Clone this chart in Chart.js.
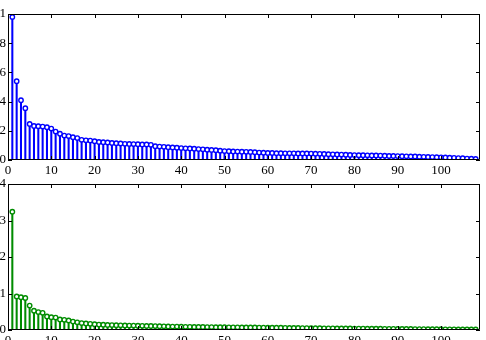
<!DOCTYPE html>
<html>
<head>
<meta charset="utf-8">
<script src="https://cdn.jsdelivr.net/npm/chart.js@4.4.1/dist/chart.umd.min.js"></script>
<style>
	html, body { margin: 0; padding: 0; background: #fff; }
	body { width: 486px; height: 340px; overflow: hidden; position: relative; }
	canvas { position: absolute; }
	#top-canvas { left: -30px; top: 0px; }
	#bottom-canvas { left: -30px; top: 170px; }
</style>
</head>
<body>
<canvas id="top-canvas" width="516" height="180"></canvas>
<canvas id="bottom-canvas" width="516" height="180"></canvas>
<script>
// values, index 1..108
var topValues = [
	0.98, 0.54, 0.41, 0.355, 0.247, 0.233, 0.232, 0.229, 0.225, 0.215,
	0.195, 0.18, 0.167, 0.164, 0.156, 0.15, 0.138, 0.135, 0.133, 0.129,
	0.124, 0.122, 0.12, 0.117, 0.115, 0.113, 0.111, 0.11, 0.109, 0.108,
	0.107, 0.106, 0.104, 0.095, 0.092, 0.09, 0.088, 0.086, 0.084, 0.082,
	0.08, 0.079, 0.077, 0.075, 0.073, 0.071, 0.069, 0.067, 0.064, 0.061,
	0.06, 0.059, 0.058, 0.057, 0.056, 0.055, 0.053, 0.051, 0.05, 0.048,
	0.048, 0.047, 0.047, 0.046, 0.046, 0.046, 0.045, 0.045, 0.045, 0.044,
	0.043, 0.042, 0.041, 0.04, 0.039, 0.038, 0.037, 0.036, 0.035, 0.034,
	0.033, 0.033, 0.032, 0.031, 0.031, 0.03, 0.029, 0.028, 0.028, 0.027,
	0.026, 0.025, 0.024, 0.024, 0.023, 0.022, 0.021, 0.02, 0.019, 0.018,
	0.017, 0.016, 0.015, 0.013, 0.012, 0.01, 0.009, 0.007
];
var bottomValues = [
	3.24, 0.92, 0.9, 0.88, 0.67, 0.53, 0.49, 0.47, 0.37, 0.35,
	0.34, 0.29, 0.28, 0.26, 0.23, 0.21, 0.19, 0.18, 0.17, 0.16,
	0.15, 0.145, 0.14, 0.135, 0.13, 0.128, 0.125, 0.122, 0.12, 0.118,
	0.115, 0.112, 0.11, 0.107, 0.104, 0.101, 0.098, 0.095, 0.093, 0.09,
	0.088, 0.087, 0.085, 0.084, 0.082, 0.081, 0.08, 0.078, 0.077, 0.075,
	0.074, 0.073, 0.072, 0.071, 0.07, 0.069, 0.068, 0.067, 0.066, 0.065,
	0.064, 0.062, 0.061, 0.06, 0.058, 0.057, 0.055, 0.054, 0.052, 0.05,
	0.049, 0.048, 0.047, 0.046, 0.045, 0.044, 0.043, 0.042, 0.041, 0.04,
	0.039, 0.038, 0.037, 0.036, 0.035, 0.034, 0.033, 0.032, 0.031, 0.03,
	0.029, 0.028, 0.027, 0.026, 0.025, 0.024, 0.023, 0.022, 0.021, 0.02,
	0.019, 0.018, 0.018, 0.017, 0.016, 0.016, 0.015, 0.015
];
var xTicks = [0, 10, 20, 30, 40, 50, 60, 70, 80, 90, 100];
var topYTicks = [0, 0.2, 0.4, 0.6, 0.8, 1];
var bottomYTicks = [0, 1, 2, 3, 4];

var font = { family: "'Liberation Serif', 'Times New Roman', serif", size: 13 };

// matlab style box with ticks pointing inward
var boxPlugin = {
	id: "box",
	afterDraw: function(chart) {
		var ctx = chart.ctx;
		var a = chart.chartArea;
		var x = chart.scales.x, y = chart.scales.y;
		var len = 4;
		ctx.save();
		ctx.strokeStyle = "#000";
		ctx.lineWidth = 1;
		ctx.beginPath();
		ctx.rect(Math.round(a.left) + 0.5, Math.round(a.top) + 0.5,
			Math.round(a.right - a.left) - 1, Math.round(a.bottom - a.top) - 1);
		x.ticks.forEach(function(t) {
			var px = Math.round(x.getPixelForValue(t.value)) + 0.5;
			ctx.moveTo(px, a.bottom); ctx.lineTo(px, a.bottom - len);
			ctx.moveTo(px, a.top); ctx.lineTo(px, a.top + len);
		});
		y.ticks.forEach(function(t) {
			var py = Math.round(y.getPixelForValue(t.value)) + 0.5;
			ctx.moveTo(a.left, py); ctx.lineTo(a.left + len, py);
			ctx.moveTo(a.right, py); ctx.lineTo(a.right - len, py);
		});
		ctx.stroke();
		ctx.restore();
	}
};

function label(v) {
	return String(Math.round(v * 10) / 10);
}

function makeStem(id, values, yTicks, yMax, color) {
	var points = values.map(function(v, i) { return { x: i + 1, y: v }; });
	return new Chart(document.getElementById(id), {
		type: "bar",
		data: {
			datasets: [
				{
					type: "line",
					data: points,
					showLine: false,
					pointRadius: 2.2,
					pointBorderWidth: 1.4,
					pointBorderColor: color,
					pointBackgroundColor: "#fff",
					order: 0
				},
				{
					type: "bar",
					data: points,
					backgroundColor: color,
					barThickness: 1.4,
					order: 1
				}
			]
		},
		options: {
			responsive: false,
			animation: false,
			devicePixelRatio: 1,
			layout: { padding: { top: 14, right: 6, left: 0, bottom: 0 } },
			plugins: { legend: { display: false }, tooltip: { enabled: false } },
			scales: {
				x: {
					type: "linear",
					min: 0,
					max: 109,
					offset: false,
					grid: { display: false, drawTicks: false },
					border: { display: false },
					ticks: { font: font, color: "#000", padding: 3, maxRotation: 0, callback: label },
					afterBuildTicks: function(s) {
						s.ticks = xTicks.map(function(v) { return { value: v }; });
					},
					afterFit: function(s) { s.height = 20; }
				},
				y: {
					min: 0,
					max: yMax,
					grid: { display: false, drawTicks: false },
					border: { display: false },
					ticks: { font: font, color: "#000", padding: 2, callback: label },
					afterBuildTicks: function(s) {
						s.ticks = yTicks.map(function(v) { return { value: v }; });
					},
					afterFit: function(s) { s.width = 38; }
				}
			}
		},
		plugins: [boxPlugin]
	});
}

makeStem("top-canvas", topValues, topYTicks, 1, "#0000ff");
makeStem("bottom-canvas", bottomValues, bottomYTicks, 4, "#008c00");
</script>
</body>
</html>
